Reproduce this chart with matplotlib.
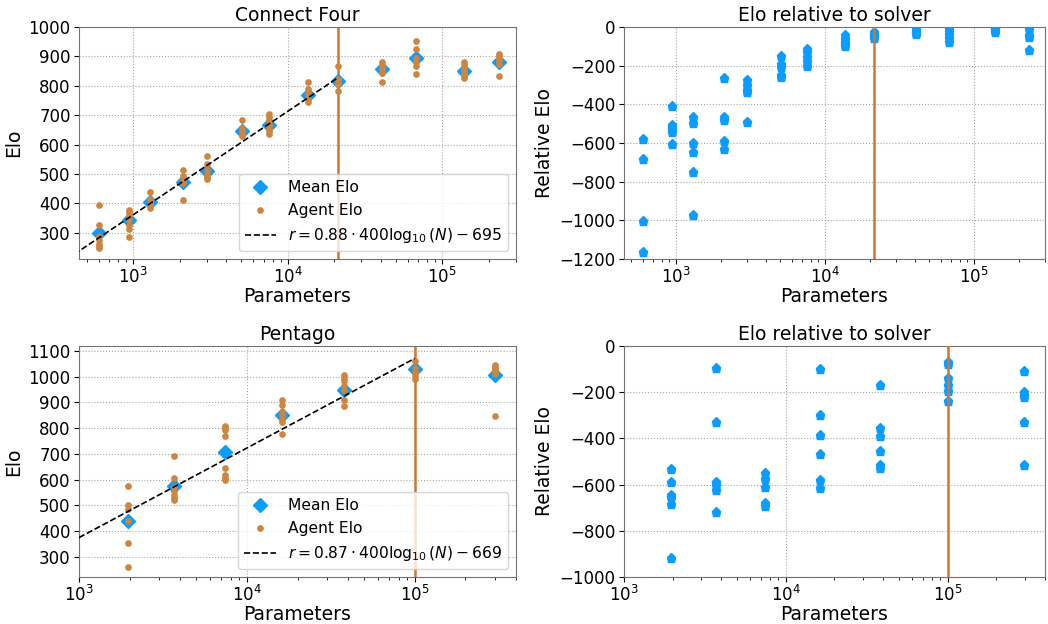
import numpy as np
import matplotlib
matplotlib.use("Agg")
import matplotlib.pyplot as plt
from matplotlib.ticker import MultipleLocator

# ---------------- Data ----------------
# Connect Four
c4_params = [600, 940, 1290, 2100, 2990, 5060, 7520, 13600, 21200, 41000, 67500, 138000, 234000]
c4_mean = [298, 343, 405, 473, 511, 646, 666, 770, 816, 858, 893, 852, 880]
c4_agents = [
    [393, 327, 290, 275, 262, 254, 247],
    [378, 370, 362, 345, 328, 313, 285],
    [438, 415, 405, 395, 385],
    [512, 492, 480, 470, 410],
    [560, 533, 515, 500, 490, 482],
    [685, 655, 645, 635, 628],
    [703, 695, 685, 668, 655, 645, 635],
    [812, 790, 778, 768, 755, 745],
    [868, 822, 812, 806, 782],
    [880, 870, 862, 852, 842, 813],
    [951, 926, 895, 880, 868, 841],
    [882, 872, 862, 852, 842, 833, 825],
    [908, 900, 892, 884, 875, 832],
]
c4_rel = [
    [-577, -682, -1001, -1162],
    [-407, -507, -517, -530, -545, -603],
    [-464, -497, -599, -646, -750, -971],
    [-265, -466, -481, -590, -632],
    [-274, -300, -325, -334, -490],
    [-152, -190, -205, -250, -258],
    [-114, -128, -156, -178, -201],
    [-42, -60, -75, -88, -100],
    [-25, -35, -45, -55],
    [-10, -20, -30, -35],
    [-10, -25, -40, -55, -78],
    [-8, -15, -26],
    [-10, -40, -50, -120],
]
c4_solver = 21200
c4_slope, c4_icpt = 0.88, -695

# Pentago
pg_params = [1950, 3700, 7450, 16200, 38000, 100000, 298000]
pg_mean = [438, 575, 709, 850, 949, 1029, 1006]
pg_agents = [
    [577, 500, 486, 438, 354, 260],
    [690, 607, 572, 555, 540, 530, 521],
    [810, 800, 792, 770, 647, 620, 608, 600],
    [908, 888, 862, 850, 836, 825, 776],
    [1005, 994, 982, 965, 950, 910, 886],
    [1062, 1035, 1017, 1005, 992],
    [1045, 1038, 1030, 1020, 1010, 848],
]
pg_rel = [
    [-532, -588, -645, -655, -686, -917],
    [-96, -328, -590, -602, -622, -720],
    [-548, -575, -610, -680, -692],
    [-99, -299, -387, -468, -580, -614],
    [-168, -354, -391, -453, -516, -530],
    [-68, -78, -137, -168, -194, -240],
    [-108, -200, -212, -222, -331, -516],
]
pg_solver = 100000
pg_slope, pg_icpt = 0.87, -669

# ---------------- Style ----------------
BLUE = "#0f9cf7"
PENT = "#0a9dff"
DOT = "#cd8540"
VLINE = "#d6742e"
W, H = 1048, 624
fig = plt.figure(figsize=(W / 100, H / 100), dpi=100)

TICK_FS = 12
LAB_FS = 13.5
TITLE_FS = 13.5
LEG_FS = 11.2


def style(ax):
    ax.set_xscale("log")
    ax.grid(True, which="major", linestyle=":", color="0.65", linewidth=0.8)
    ax.tick_params(labelsize=TICK_FS, pad=2.5)
    for s in ax.spines.values():
        s.set_color("0.45")
    ax.set_axisbelow(True)


def elo_panel(rect, params, mean, agents, solver, slope, icpt, title, xlim, ylim, xfit0):
    ax = fig.add_axes(rect)
    style(ax)
    xs = [p for p, a in zip(params, agents) for _ in a]
    ys = [v for a in agents for v in a]
    ax.axvline(solver, color=VLINE, linewidth=1.8, zorder=1)
    ax.plot(params, mean, linestyle="none", marker="D", markersize=7.5,
            color=BLUE, label="Mean Elo", zorder=3)
    ax.plot(xs, ys, linestyle="none", marker="o", markersize=3.8,
            color=DOT, label="Agent Elo", zorder=4)
    xf = np.logspace(np.log10(xfit0), np.log10(solver), 50)
    ax.plot(xf, slope * 400 * np.log10(xf) + icpt, "k--", linewidth=1.2,
            label=r"$r = %.2f\cdot 400\log_{10}(N) - %d$" % (slope, -icpt), zorder=5)
    ax.set_xlim(*xlim)
    ax.set_ylim(*ylim)
    ax.yaxis.set_major_locator(MultipleLocator(100))
    ax.set_title(title, fontsize=TITLE_FS, pad=4)
    ax.set_xlabel("Parameters", fontsize=LAB_FS, labelpad=0)
    ax.set_ylabel("Elo", fontsize=LAB_FS)
    ax.legend(loc="lower right", fontsize=LEG_FS)
    return ax


def rel_panel(rect, params, rel, solver, xlim, ylim):
    ax = fig.add_axes(rect)
    style(ax)
    xs = [p for p, a in zip(params, rel) for _ in a]
    ys = [v for a in rel for v in a]
    ax.plot(xs, ys, linestyle="none", marker="p", markersize=6.5, color=PENT, zorder=3)
    ax.axvline(solver, color=VLINE, linewidth=1.8, zorder=4)
    ax.set_xlim(*xlim)
    ax.set_ylim(*ylim)
    ax.set_title("Elo relative to solver", fontsize=TITLE_FS, pad=4)
    ax.set_xlabel("Parameters", fontsize=LAB_FS, labelpad=0)
    ax.set_ylabel("Relative Elo", fontsize=LAB_FS)
    return ax


L1, W1 = 79 / W, 437 / W
L2, W2 = 624 / W, 421 / W
TB, TH = 1 - 259 / H, 232 / H
BB, BH = 1 - 577 / H, 231 / H

c4_xlim = (447, 3.0e5)
pg_xlim = (1e3, 4e5)

elo_panel([L1, TB, W1, TH], c4_params, c4_mean, c4_agents, c4_solver, c4_slope, c4_icpt,
          "Connect Four", c4_xlim, (211, 1000), 300)
rel_panel([L2, TB, W2, TH], c4_params, c4_rel, c4_solver, c4_xlim, (-1200, 0))
elo_panel([L1, BB, W1, BH], pg_params, pg_mean, pg_agents, pg_solver, pg_slope, pg_icpt,
          "Pentago", pg_xlim, (222, 1119), 1e3)
rel_panel([L2, BB, W2, BH], pg_params, pg_rel, pg_solver, pg_xlim, (-1000, 0))

fig.savefig("out.png", dpi=100)
